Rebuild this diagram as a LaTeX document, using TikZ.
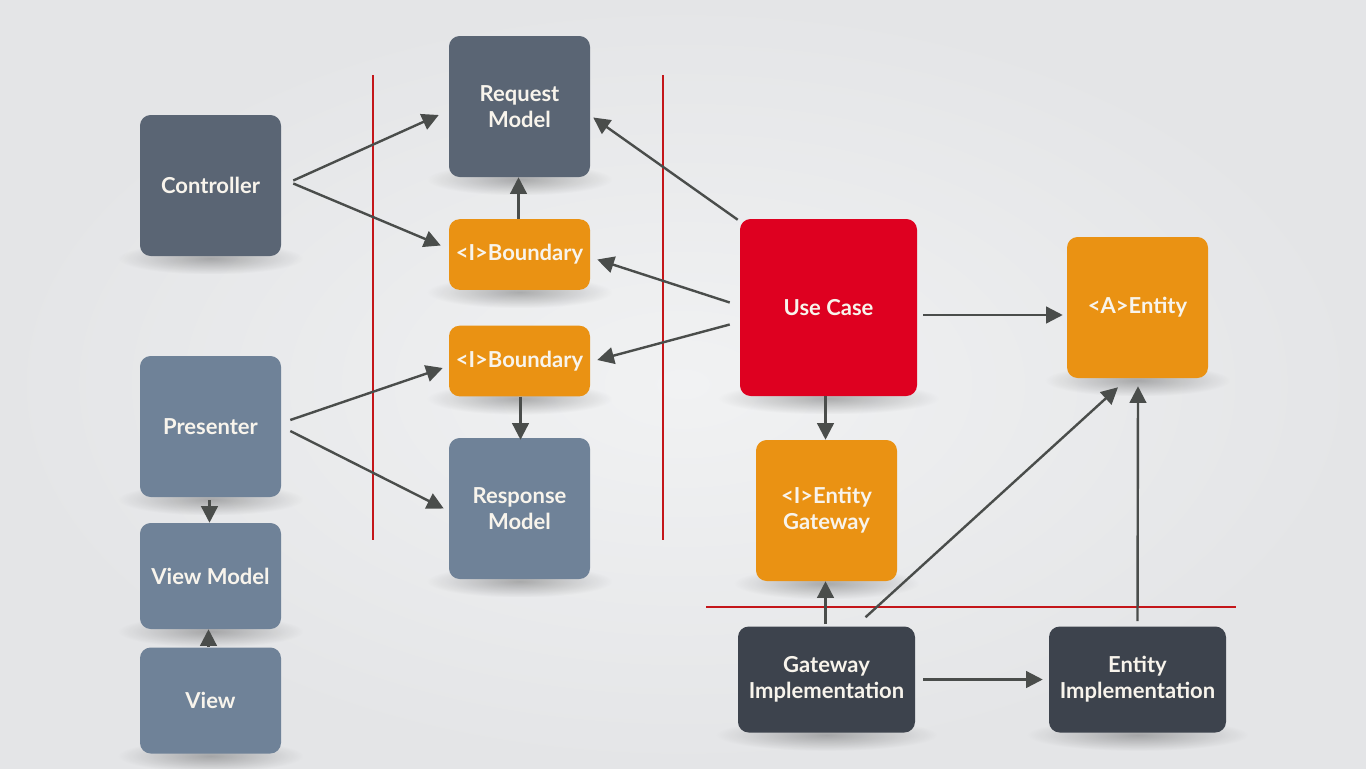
\documentclass[tikz,border=0pt]{standalone}
\usepackage{fontspec}
\setmainfont{Lato}
\usetikzlibrary{arrows.meta,calc,fadings,backgrounds}
\definecolor{bgin}{RGB}{241,242,243}
\definecolor{bgout}{RGB}{228,229,231}
\definecolor{slatedark}{RGB}{90,101,116}
\definecolor{slatelight}{RGB}{111,130,152}
\definecolor{orng}{RGB}{234,146,19}
\definecolor{ucred}{RGB}{222,0,32}
\definecolor{impl}{RGB}{61,67,77}
\definecolor{arrcol}{RGB}{74,77,75}
\definecolor{redline}{RGB}{196,22,26}
\definecolor{txt}{RGB}{248,244,236}
\tikzfading[name=softblob, inner color=transparent!0, outer color=transparent!100]
\tikzset{
  box/.style={rounded corners=8pt, inner sep=0pt, text=txt, align=center,
    font=\bfseries\fontsize{16.5}{19.5}\selectfont},
  sq/.style={box, minimum width=105.75pt, minimum height=105.75pt},
  flat/.style={box, minimum width=105.75pt, minimum height=53pt},
  mid/.style={box, minimum width=105.75pt, minimum height=79.5pt},
  wide/.style={box, minimum width=132.75pt, minimum height=79.5pt},
  big/.style={box, minimum width=132.75pt, minimum height=132.75pt},
  arr/.style={draw=arrcol, line width=1.8pt, -{Triangle[length=12.5pt,width=12.5pt]}},
  border/.style={draw=redline, line width=1.8pt},
  shadowblob/.style={fill=black, opacity=0.28, path fading=softblob},
}
\begin{document}
\begin{tikzpicture}[x=0.75pt,y=-0.75pt]
\useasboundingbox (0,0) rectangle (1366,768);
\begin{scope}[on background layer]
\shade[inner color=bgin, outer color=bgout] (0,0) rectangle (1366,768);
\end{scope}

% boundary lines
\coordinate (v1t) at (373,75);  \coordinate (v1b) at (373,540);
\coordinate (v2t) at (663,75);  \coordinate (v2b) at (663,540);
\coordinate (hl) at (706,607);  \coordinate (hr) at (1236,607);
\draw[border] (v1t) -- (v1b);
\draw[border] (v2t) -- (v2b);
\draw[border] (hl) -- (hr);

% nodes
\node[sq, fill=slatedark] (ctrl) at (210.5,185.5) {Controller};
\node[sq, fill=slatedark] (req) at (519.5,106.5) {Request\\Model};
\node[flat, fill=orng] (b1) at (519.5,254.5) {<I>Boundary};
\node[flat, fill=orng] (b2) at (519.5,361) {<I>Boundary};
\node[sq, fill=slatelight] (resp) at (519.5,508.5) {Response\\Model};
\node[sq, fill=slatelight] (pres) at (210.5,426.5) {Presenter};
\node[mid, fill=slatelight] (vm) at (210.5,576) {View Model};
\node[mid, fill=slatelight] (view) at (210.5,700.5) {View};
\node[big, fill=ucred] (uc) at (828.5,307.5) {Use Case};
\node[sq, fill=orng] (ent) at (1137.5,307.5) {<A>Entity};
\node[sq, fill=orng] (egw) at (826.5,510.5) {<I>Entity\\Gateway};
\node[wide, fill=impl] (gimpl) at (826.5,679.5) {Gateway\\Implementation};
\node[wide, fill=impl] (eimpl) at (1137.5,679.5) {Entity\\Implementation};

% soft shadows under the boxes
\begin{scope}[on background layer]
\foreach \n in {ctrl,req,b1,b2,resp,pres,vm,view,uc,ent,egw,gimpl,eimpl}
  \fill[shadowblob] ($(\n.south west)+(-22,-14)$) rectangle ($(\n.south east)+(22,18)$);
\end{scope}

% connectors
\draw[arr] ($(ctrl.east)+(12,-5)$) -- ($(req.west)+(-10,8.5)$);
\draw[arr] ($(ctrl.east)+(12,-2)$) -- ($(b1.west)+(-8,-9)$);
\draw[arr] ($(b1.north)+(-1,0)$) -- ($(req.south)+(-1,0)$);
\draw[arr] ($(uc.north west)+(-2,1)$) -- ($(req.east)+(3,11)$);
\draw[arr] ($(uc.west)+(-10,-5)$) -- ($(b1.east)+(7,5)$);
\draw[arr] ($(uc.west)+(-10,17)$) -- ($(b2.east)+(7,-1)$);
\draw[arr] ($(pres.east)+(9,-6.5)$) -- ($(b2.west)+(-6,7)$);
\draw[arr] ($(pres.east)+(9,4.5)$) -- ($(resp.west)+(-5,0)$);
\draw[arr] ($(b2.south)+(1,0)$) -- ($(resp.north)+(1,2)$);
\draw[arr] ($(pres.south)+(-1,3)$) -- ($(vm.north)+(-1,0)$);
\draw[arr] ($(view.north)+(-2,0)$) -- ($(vm.south)+(-2,0)$);
\draw[arr] ($(uc.south)+(-3,0)$) -- ($(egw.north)+(-1,0)$);
\draw[arr] ($(uc.east)+(6,7.5)$) -- ($(ent.west)+(-4,7.5)$);
\draw[arr] ($(gimpl.north)+(-1,-2)$) -- ($(egw.south)+(-1,0)$);
\draw[arr] ($(gimpl.north)+(39,-9)$) -- ($(ent.south)+(-19.5,9)$);
\draw[arr] ($(eimpl.north)+(0,-5)$) -- ($(ent.south)+(0.5,8)$);
\draw[arr] ($(gimpl.east)+(8,0)$) -- ($(eimpl.west)+(-6,0)$);
\end{tikzpicture}
\end{document}
